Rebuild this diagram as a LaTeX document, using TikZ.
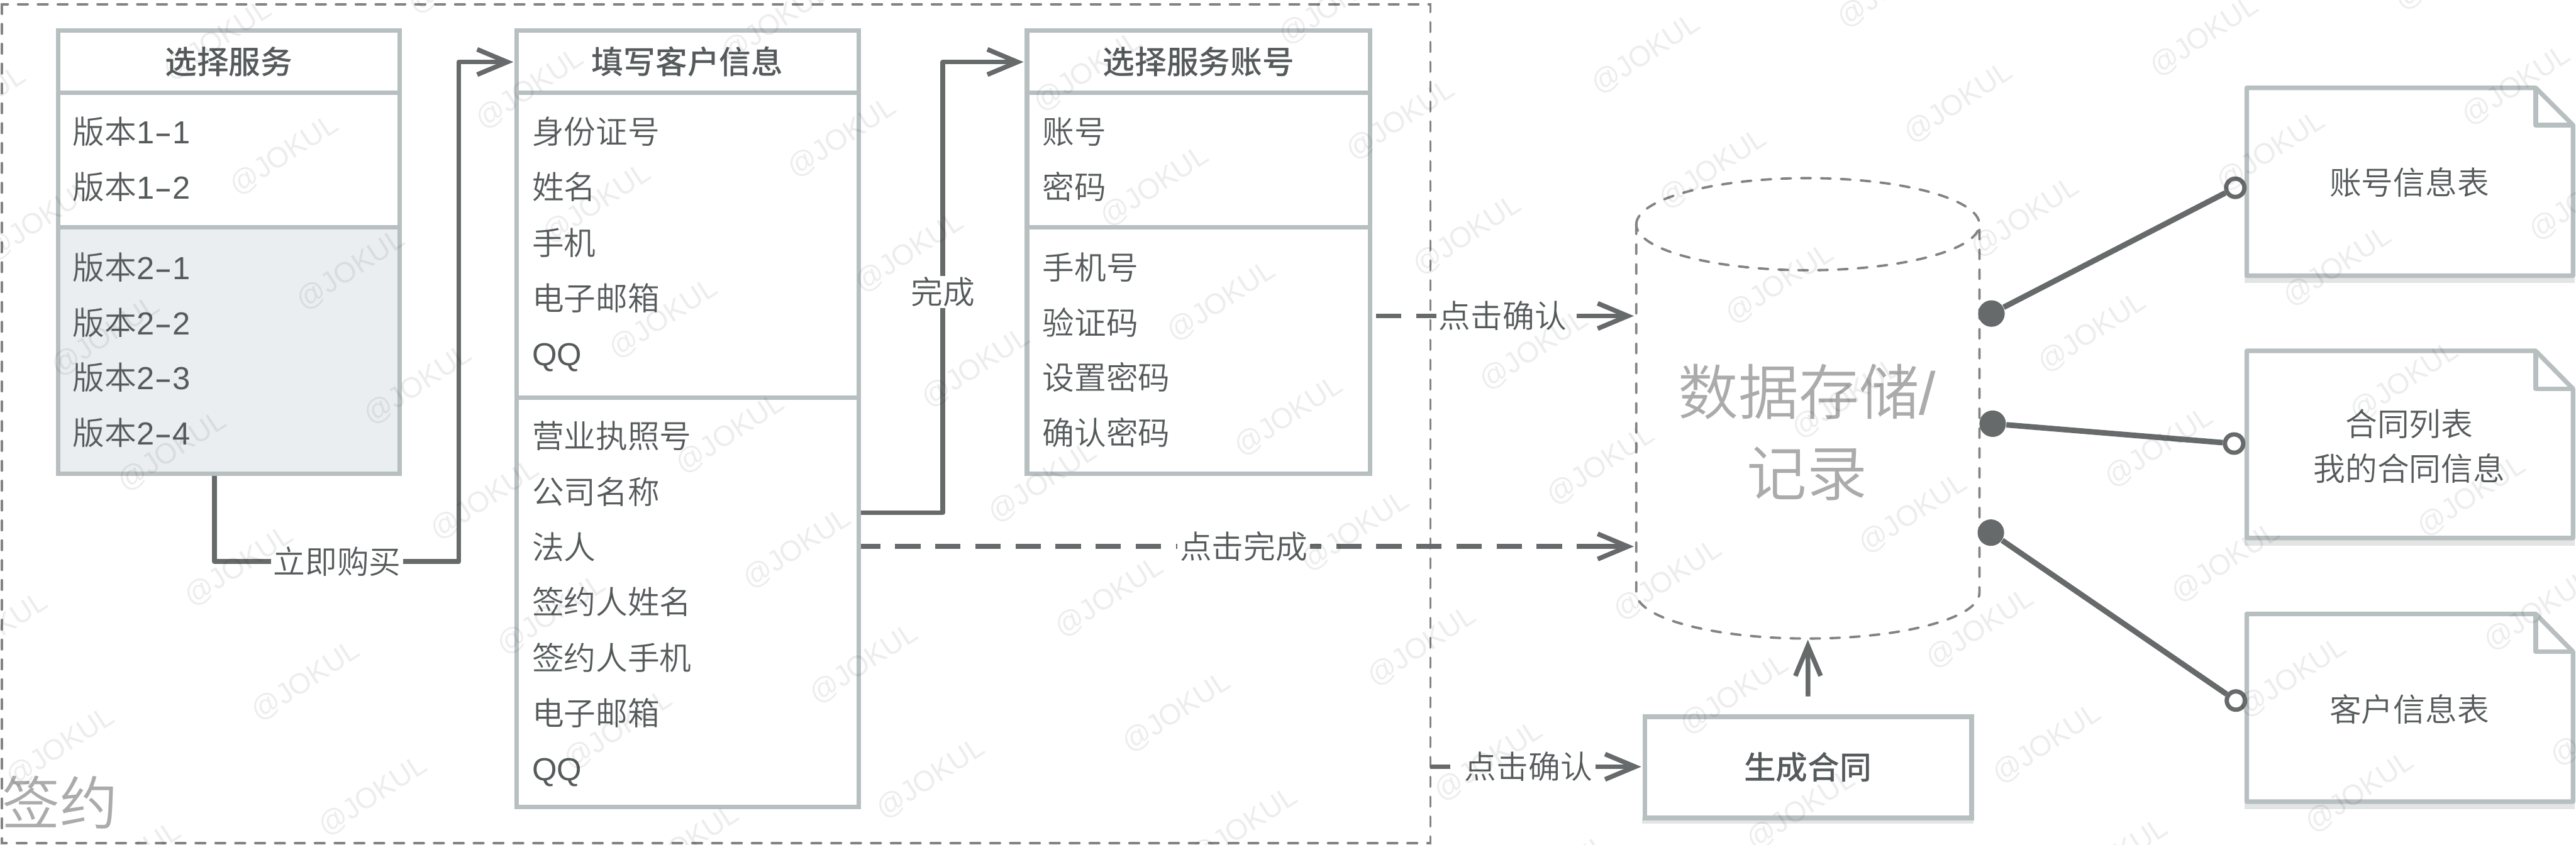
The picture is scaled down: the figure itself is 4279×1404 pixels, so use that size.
\documentclass[tikz,border=0pt]{standalone}
\usepackage{fontspec}
\usetikzlibrary{arrows.meta}
\setmainfont{Noto Sans CJK SC DemiLight}[BoldFont={Noto Sans CJK SC Medium}]
\newfontfamily\lf{Liberation Sans}
\newfontfamily\wmf{Liberation Sans}
\definecolor{bd}{HTML}{B8BFC1}
\definecolor{cn}{HTML}{666A6B}
\definecolor{tx}{HTML}{555A5B}
\definecolor{gf}{HTML}{EBEEF1}
\definecolor{dsh}{HTML}{838383}
\definecolor{big}{HTML}{ABABAB}
\definecolor{shd}{HTML}{E3E4E4}
\newcommand{\hy}{\scalebox{1.7}[1]{-}}
\tikzset{
  x=0.25pt,y=-0.25pt,
  body/.style={font=\fontsize{13.25}{16}\selectfont,text=tx,text height=11.66pt,text depth=1.59pt,inner sep=0pt},
  rowtxt/.style={body,anchor=west},
  captxt/.style={body,font=\fontsize{13.25}{16}\selectfont\bfseries,anchor=center},
  cell/.style={draw=bd,line width=1.9pt,inner sep=0pt,anchor=center,line join=miter},
  cellg/.style={cell,fill=gf},
  conn/.style={draw=cn,line width=1.95pt,line join=round},
  tipped/.style={-{Straight Barb[length=12.5pt,width=10.5pt,line width=1.95pt]},shorten >=0.5pt},
  dshconn/.style={conn,dash pattern=on 10.5pt off 6.15pt},
  lab/.style={body,fill=white,inner xsep=1pt,inner ysep=0pt,anchor=center},
  outline/.style={draw=dsh,line width=1pt,line cap=round,dash pattern=on 4pt off 4.25pt},
  notebd/.style={draw=bd,line width=1.9pt,line join=round},
  shadowrect/.style={fill=shd,draw=none},
  dot/.style={circle,fill=cn,draw=none,minimum size=11pt,inner sep=0pt},
  odot/.style={circle,fill=white,draw=cn,line width=1.8pt,minimum size=7.6pt,inner sep=0pt},
  wm/.style={font=\fontsize{12}{14}\wmf,text=black,opacity=0.07,rotate=33,inner sep=0pt,anchor=center},
}
\newcommand{\boxcell}[6]{%
  \pgfmathsetmacro{\cxx}{(#2+#4)/2}\pgfmathsetmacro{\cyy}{(#3+#5)/2}%
  \pgfmathsetmacro{\ww}{(#4-#2)*0.25}\pgfmathsetmacro{\hh}{(#5-#3)*0.25}%
  \node[#6,minimum width=\ww pt,minimum height=\hh pt] (#1) at (\cxx,\cyy) {};}
\begin{document}
\begin{tikzpicture}
\useasboundingbox[fill=white] (0,0) rectangle (4279,1404);
% outer dashed frame
\draw[outline] (3,7) rectangle (2376,1401);
\node[font=\fontsize{24}{28}\selectfont,text=big,inner sep=0pt,anchor=west] (sign) at (3,1333) {签约};
% box 1
\boxcell{a1}{96.5}{51}{664}{154}{cell}
\boxcell{a2}{96.5}{154}{664}{378}{cell}
\boxcell{a3}{96.5}{378}{664}{787}{cellg}
\node[captxt] (a1t) at (380,103) {选择服务};
\node[rowtxt] (a21) at (120,219) {版本{\lf 1\hy 1}};
\node[rowtxt] (a22) at (120,311) {版本{\lf 1\hy 2}};
\node[rowtxt] (a31) at (120,444) {版本{\lf 2\hy 1}};
\node[rowtxt] (a32) at (120,536) {版本{\lf 2\hy 2}};
\node[rowtxt] (a33) at (120,627) {版本{\lf 2\hy 3}};
\node[rowtxt] (a34) at (120,719) {版本{\lf 2\hy 4}};
% box 2
\boxcell{b1}{858.5}{51}{1426.5}{154}{cell}
\boxcell{b2}{858.5}{154}{1426.5}{661}{cell}
\boxcell{b3}{858.5}{661}{1426.5}{1341}{cell}
\node[captxt] (b1t) at (1142,103) {填写客户信息};
\node[rowtxt] (b21) at (883,219) {身份证号};
\node[rowtxt] (b22) at (883,311) {姓名};
\node[rowtxt] (b23) at (883,403) {手机};
\node[rowtxt] (b24) at (883,495) {电子邮箱};
\node[rowtxt] (b25) at (883,587) {\lf QQ};
\node[rowtxt] (b31) at (883,724) {营业执照号};
\node[rowtxt] (b32) at (883,817) {公司名称};
\node[rowtxt] (b33) at (883,909) {法人};
\node[rowtxt] (b34) at (883,1000) {签约人姓名};
\node[rowtxt] (b35) at (883,1093) {签约人手机};
\node[rowtxt] (b36) at (883,1185) {电子邮箱};
\node[rowtxt] (b37) at (883,1277) {\lf QQ};
% box 3
\boxcell{c1}{1706}{51}{2276}{154}{cell}
\boxcell{c2}{1706}{154}{2276}{378}{cell}
\boxcell{c3}{1706}{378}{2276}{787}{cell}
\node[captxt] (c1t) at (1991,103) {选择服务账号};
\node[rowtxt] (c21) at (1731,219) {账号};
\node[rowtxt] (c22) at (1731,311) {密码};
\node[rowtxt] (c31) at (1731,444) {手机号};
\node[rowtxt] (c32) at (1731,536) {验证码};
\node[rowtxt] (c33) at (1731,627) {设置密码};
\node[rowtxt] (c34) at (1731,719) {确认密码};
% database
\draw[outline] (2718,373) .. controls (2718,331) and (2846,296) .. (3003,296)
  .. controls (3160,296) and (3288,331) .. (3288,373)
  .. controls (3288,415) and (3160,449) .. (3003,449)
  .. controls (2846,449) and (2718,415) .. (2718,373);
\draw[outline] (2718,373) -- (2718,985) .. controls (2718,1027) and (2846,1061) .. (3003,1061)
  .. controls (3160,1061) and (3288,1027) .. (3288,985) -- (3288,373);
\node[font=\fontsize{25}{33.75}\selectfont,text=big,align=center,inner sep=0pt,anchor=center] (db) at (3002,718) {数据存储{\lf /}\\记录};
\coordinate (dbS) at (3003,1061);
% contract box
\fill[shadowrect] (2728,1358) rectangle (3278,1369);
\boxcell{g}{2732}{1191}{3275}{1359}{cell}
\node[captxt] (gt) at (3003,1275) {生成合同};
% notes
\fill[shadowrect] (3728,458) rectangle (4277,470);
\draw[notebd,fill=white] (3732,146) -- (4212,146) -- (4274,208) -- (4274,458) -- (3732,458) -- cycle;
\draw[notebd] (4212,146) -- (4212,208) -- (4274,208);
\node[body,anchor=center] (n1) at (4002,303) {账号信息表};
\fill[shadowrect] (3728,894) rectangle (4277,907);
\draw[notebd,fill=white] (3732,583) -- (4212,583) -- (4274,646) -- (4274,894) -- (3732,894) -- cycle;
\draw[notebd] (4212,583) -- (4212,646) -- (4274,646);
\node[body,anchor=center] (n2a) at (4002,704) {合同列表};
\node[body,anchor=center] (n2b) at (4002,779) {我的合同信息};
\fill[shadowrect] (3728,1332) rectangle (4277,1344);
\draw[notebd,fill=white] (3732,1020) -- (4212,1020) -- (4274,1083) -- (4274,1332) -- (3732,1332) -- cycle;
\draw[notebd] (4212,1020) -- (4212,1083) -- (4274,1083);
\node[body,anchor=center] (n3) at (4002,1179) {客户信息表};
% connectors
\coordinate (v1) at (356,933);
\coordinate (v2) at (762,933);
\coordinate (v3) at (762,103);
\draw[conn,tipped] (v1 |- a3.south) -- (v1) -- (v2) -- (v3) -- (v3 -| b1.west);
\node[lab] (l1) at (560,933) {立即购买};
\coordinate (w1) at (1566,852);
\coordinate (w2) at (1566,103);
\draw[conn,tipped] (w1 -| b3.east) -- (w1) -- (w2) -- (w2 -| c1.west);
\node[lab] (l2) at (1566,485) {完成};
\coordinate (d1s) at (2286,525);
\coordinate (d1e) at (2619,525);
\coordinate (d1t) at (2716,525);
\draw[dshconn] (d1s) -- (d1e);
\draw[conn,tipped] (d1e) -- (d1t);
\node[lab] (l3) at (2496,525) {点击确认};
\coordinate (d2e) at (2619,908);
\coordinate (d2t) at (2716,908);
\draw[dshconn,dash phase=2.5pt] (d2e -| b3.east) -- (d2e);
\draw[conn,tipped] (d2e) -- (d2t);
\node[lab] (l4) at (2066,908) {点击完成};
\coordinate (d3s) at (2376,1274);
\node[lab] (l5) at (2539,1274) {点击确认};
\draw[conn,dash pattern=on 8.25pt off 6.25pt] (d3s) -- (l5.west);
\draw[conn,tipped] (l5.east) -- (l5.east -| g.west);
\draw[conn,tipped,shorten <=7.5pt] (g.north) -- (dbS);
% note links
\node[dot] (p1) at (3308,521) {};
\node[dot] (p2) at (3310,704) {};
\node[dot] (p3) at (3307,885) {};
\node[odot] (q1) at (3713,312) {};
\node[odot] (q2) at (3711,737) {};
\node[odot] (q3) at (3714,1164) {};
\draw[conn,line width=2.3pt] (p1) -- (q1);
\draw[conn,line width=2.3pt] (p2) -- (q2);
\draw[conn,line width=2.3pt] (p3) -- (q3);
% watermark
\begin{scope}
\clip (0,0) rectangle (4279,1404);
\foreach \n in {-4,...,12}{\foreach \m in {-3,...,12}{%
  \pgfmathtruncatemacro{\wx}{472+111*\n+408*\m}%
  \pgfmathtruncatemacro{\wy}{258+191*\n-110*\m}%
  \ifnum\wx>-110 \ifnum\wx<4390 \ifnum\wy>-90 \ifnum\wy<1494
    \node[wm] (wm\n x\m) at (\wx,\wy) {@JOKUL};
  \fi\fi\fi\fi
}}
\end{scope}
\end{tikzpicture}
\end{document}
